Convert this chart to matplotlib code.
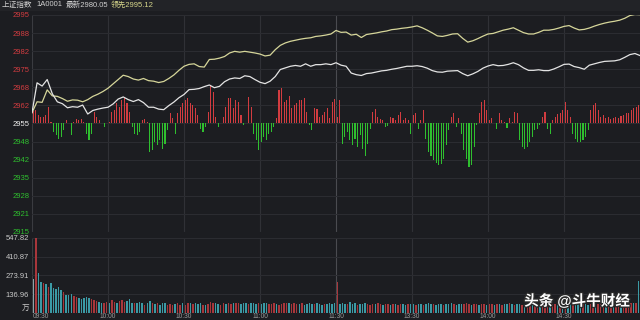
import numpy as np
import matplotlib
matplotlib.use("Agg")
import matplotlib.pyplot as plt
import matplotlib.patheffects as pe
from matplotlib.patches import Rectangle

plt.rcParams['font.family'] = ['Liberation Sans', 'Noto Sans CJK SC']

# === Data ===
prev_close = 2955
# index (white) and leading index (yellow), one value every 2 minutes
index_line = [
    2959.0, 2970.0, 2968.8, 2971.2, 2966.0, 2963.0, 2962.3, 2960.8, 2961.2, 2961.0,
    2961.8, 2958.5, 2959.8, 2960.3, 2960.7, 2961.0, 2962.2, 2964.0, 2964.8, 2963.8,
    2963.1, 2963.8, 2962.7, 2961.0, 2961.0, 2960.3, 2960.1, 2961.6, 2962.9, 2964.5,
    2965.7, 2967.5, 2967.6, 2967.9, 2968.6, 2969.2, 2968.2, 2968.7, 2970.4, 2971.4,
    2971.8, 2971.6, 2972.6, 2972.3, 2971.2, 2970.2, 2969.7, 2970.6, 2972.3, 2974.9,
    2975.5, 2976.1, 2976.4, 2976.1, 2977.0, 2976.1, 2976.7, 2976.7, 2977.0, 2976.7,
    2977.4, 2976.5, 2976.1, 2973.6, 2973.0, 2972.7, 2973.4, 2973.6, 2974.0, 2974.4,
    2974.6, 2975.0, 2975.3, 2975.7, 2976.1, 2976.1, 2976.3, 2976.0, 2975.4, 2974.5,
    2974.0, 2973.9, 2974.3, 2974.4, 2974.5, 2973.4, 2972.6, 2973.3, 2974.2, 2975.4,
    2976.2, 2976.7, 2976.3, 2976.4, 2976.8, 2977.4, 2976.7, 2975.5, 2974.6, 2974.6,
    2974.8, 2974.5, 2974.5, 2975.1, 2975.9, 2976.8, 2976.9, 2976.0, 2975.6, 2975.0,
    2976.5, 2977.0, 2977.5, 2977.9, 2978.0, 2978.1, 2978.5, 2979.4, 2980.4, 2980.8,
    2980.05]
lead_line = [
    2959.0, 2963.0, 2962.8, 2967.4, 2965.2, 2965.0, 2964.2, 2963.2, 2963.7, 2963.6,
    2963.0, 2963.8, 2965.0, 2965.8, 2966.8, 2968.0, 2969.6, 2971.2, 2972.8, 2972.3,
    2971.4, 2971.0, 2971.6, 2970.8, 2970.6, 2970.1, 2970.5, 2971.6, 2972.9, 2974.6,
    2976.1, 2976.8, 2977.0, 2976.0, 2975.8, 2978.6, 2978.7, 2979.1, 2979.7, 2981.0,
    2981.6, 2981.3, 2981.6, 2981.3, 2981.0, 2980.6, 2979.9, 2980.2, 2982.2, 2983.8,
    2984.7, 2985.3, 2985.7, 2986.1, 2986.4, 2986.6, 2987.1, 2987.3, 2987.6, 2988.0,
    2989.3, 2988.6, 2988.7, 2987.6, 2987.9, 2986.7, 2987.8, 2988.1, 2988.4, 2988.8,
    2989.1, 2989.6, 2989.8, 2990.1, 2990.3, 2990.6, 2991.0, 2990.3, 2989.4, 2988.4,
    2987.3, 2987.1, 2987.5, 2988.0, 2988.1, 2986.4, 2985.0, 2985.5, 2986.3, 2987.2,
    2988.0, 2988.2, 2988.8, 2989.4, 2989.8, 2990.3, 2989.4, 2988.5, 2988.0, 2988.0,
    2988.6, 2989.4, 2989.4, 2989.7, 2990.2, 2990.8, 2991.1, 2990.2, 2989.5, 2989.7,
    2990.2, 2990.9, 2991.5, 2992.0, 2992.4, 2992.7, 2993.1, 2993.8, 2994.8, 2995.2,
    2995.12]

# buy/sell strength bars, one per minute (offset from previous close)
strength = [
    4.5, 4.9, 3.1, 2.5, 2.5, 3.1, 5.9, 0.5, -3.1, -4.3,
    -5.6, -4.9, -2.5, 1.2, 0.3, -4.3, 0.4, 1.5, 1.2, 1.8,
    0.4, -3.7, -6.2, -3.7, 4.3, 2.5, 1.2, 0.3, -1.2, 0.3,
    0.5, 4.3, 4.9, 7.4, 6.2, 8.6, 9.9, 7.4, 4.3, -1.2,
    -3.7, -4.3, -3.1, 1.2, 1.5, 0.6, -10.5, -9.9, -6.8, -8.0,
    -6.2, -9.3, -7.4, -2.5, 3.7, 1.9, -3.7, 3.7, 6.2, 7.4,
    8.6, 9.3, 7.4, 6.8, 5.6, 3.1, -1.9, -3.1, -1.2, 4.3,
    14.2, 11.7, 2.5, -1.2, 0.3, 2.5, 6.2, 9.3, 9.3, 5.6,
    8.6, 8.0, 3.1, -0.6, 0.3, 9.9, 5.9, -3.7, -6.2, -9.9,
    -6.8, -4.9, -6.2, -3.7, -3.1, -1.2, 1.9, 12.3, 13.0, 8.0,
    8.6, 10.1, 5.6, 6.8, 7.4, 8.6, 8.6, 9.3, 4.3, -0.6,
    -2.5, 5.6, 5.2, 2.5, 3.1, 4.3, 5.6, 1.9, 8.0, 8.9,
    2.5, 8.6, -7.4, -4.9, -3.1, -6.2, -8.0, -5.6, -8.6, -4.3,
    -9.3, -12.1, -7.4, -1.9, 4.3, 5.2, 2.5, 1.5, 1.2, -1.2,
    -1.0, 2.5, 1.9, 1.2, 3.1, 4.3, 1.2, 2.2, 1.2, -3.7,
    3.1, 3.7, -1.9, 1.2, 4.9, -5.6, -10.5, -12.0, -13.4, -14.4,
    -15.3, -15.0, -13.0, -8.0, -2.5, 2.5, 3.7, -1.2, 1.9, -3.7,
    -9.9, -13.0, -16.0, -15.4, -8.6, -0.6, 3.7, 8.0, 8.6, 4.9,
    1.2, 1.9, 0.3, -1.9, 3.7, 1.2, 0.6, -1.5, 1.9, 0.5,
    4.3, 3.7, -6.2, -8.6, -9.3, -8.6, -6.8, -4.9, -2.5, -1.9,
    -0.6, 2.5, 4.3, -1.9, -3.7, 1.2, 2.5, 3.5, 3.7, 4.9,
    8.0, 4.9, 2.5, -3.7, -5.6, -6.8, -6.8, -6.2, -4.9, -2.5,
    4.9, 6.8, 7.4, 4.9, 2.5, 3.1, 1.9, 2.5, 1.5, 1.9,
    2.5, 2.2, 2.7, 3.1, 3.7, 3.7, 4.9, 5.6, 6.2, 6.8]

# volume per minute (万)
volume = [
    250, 548, 288, 224, 217, 208, 189, 217, 184, 177,
    189, 165, 153, 130, 130, 137, 123, 118, 106, 99,
    106, 113, 106, 99, 94, 90, 83, 76, 76, 83,
    76, 94, 83, 76, 90, 94, 83, 90, 99, 76,
    71, 76, 83, 71, 59, 76, 90, 71, 66, 76,
    59, 76, 71, 59, 66, 59, 66, 71, 59, 71,
    59, 71, 71, 66, 71, 66, 71, 59, 59, 66,
    83, 76, 76, 66, 59, 71, 66, 71, 66, 71,
    76, 71, 66, 71, 76, 66, 71, 76, 66, 71,
    66, 71, 76, 66, 62, 71, 66, 59, 66, 71,
    76, 71, 66, 71, 62, 66, 71, 59, 66, 71,
    66, 62, 71, 66, 59, 66, 62, 71, 66, 76,
    225, 66, 71, 62, 66, 78, 66, 71, 59, 66,
    62, 71, 66, 59, 66, 62, 71, 66, 59, 62,
    66, 59, 62, 66, 59, 62, 66, 59, 62, 66,
    62, 59, 66, 62, 59, 66, 71, 62, 66, 59,
    62, 66, 59, 62, 66, 71, 62, 59, 66, 62,
    66, 71, 62, 59, 66, 62, 59, 66, 62, 59,
    62, 66, 59, 62, 66, 59, 62, 66, 71, 62,
    59, 62, 66, 59, 62, 66, 59, 62, 59, 66,
    62, 59, 66, 62, 59, 62, 66, 59, 62, 66,
    71, 66, 62, 59, 66, 62, 59, 66, 62, 59,
    62, 66, 71, 66, 62, 66, 59, 62, 66, 62,
    66, 71, 66, 62, 71, 76, 71, 76, 71, 236]
# r = up minute, t = down minute, w = opening
vol_dir = ("wrttrtrttt" "ttrtttrrtt" "tttrrrttrr" "trrtrrrttt"
           "rtttrttrtr" "tttrrrtrrt" "rrtrtttrtr" "rrttrrtrrt"
           "rrtttrtttr" "tttrrrtrrr" "rtrrrtrttt" "trtttrtttt"
           "rtttrtttrt" "ttrrrtrrtr" "rtrtrrttrt" "trttrtttrt"
           "ttrtttrttt" "rrrtrrtrrt" "rrtrtrttrt" "rttrtrrtrr"
           "trrrtrrtrt" "rttrtttrtt" "rrtrrrtrrt" "rrtrrrrtrt")

price_ticks = [2915, 2921.67, 2928.33, 2935, 2941.67, 2948.33, 2955,
               2961.67, 2968.33, 2975, 2981.67, 2988.33, 2995]
price_labels = ['2915', '2921', '2928', '2935', '2942', '2948', '2955',
                '2962', '2968', '2975', '2982', '2988', '2995']
vol_ticks = [0, 136.96, 273.91, 410.87, 547.82]
vol_labels = ['万', '136.96', '273.91', '410.87', '547.82']
time_ticks = [0, 30, 60, 90, 120, 150, 180, 210]
time_labels = ['09:30', '10:00', '10:30', '11:00', '11:30', '13:30', '14:00', '14:30']

# === Style ===
BG = '#1c1d21'
GRID = '#2b2c31'
RED = '#d23c40'
GREEN = '#2fbf2f'
VRED = '#a8363b'
VTEAL = '#3b9aa5'

fig = plt.figure(figsize=(6.4, 3.2), dpi=100, facecolor=BG)
fig.patches.append(Rectangle((0, 1 - 11 / 320), 1, 11 / 320, transform=fig.transFigure,
                             facecolor='#222327', edgecolor='none', zorder=0))

ax = fig.add_axes([32 / 640, 88 / 320, 608 / 640, 217 / 320], facecolor=BG)
axv = fig.add_axes([32 / 640, 7 / 320, 608 / 640, 75.3 / 320], facecolor=BG)

t_line = np.arange(0, 241, 2)
t_bar = np.arange(len(strength)) + 0.5

# === Grid / axes ===
for a in (ax, axv):
    for t in time_ticks:
        c = '#4a4b50' if t == 120 else ('#3a3b40' if t == 0 else '#303136')
        a.axvline(t, color=c, lw=0.8, zorder=1)
    for s in a.spines.values():
        s.set_visible(False)
    a.set_xlim(0, 240)
    a.set_xticks([])
    a.tick_params(axis='y', length=0, pad=2, labelsize=5.5)

# === Main panel ===
for y in price_ticks:
    ax.axhline(y, color=GRID, lw=0.8, zorder=1)

s = np.array(strength)
ax.bar(t_bar, s, bottom=prev_close, width=0.42,
       color=[RED if v > 0 else GREEN for v in s], zorder=2)
ax.plot(t_line, lead_line, color='#d6d69a', lw=0.9, zorder=3)
ax.plot(t_line, index_line, color='#e4e4e4', lw=0.9, zorder=3)

ax.set_ylim(2915, 2995)
ax.set_yticks(price_ticks)
ax.set_yticklabels(price_labels)
for lab, v in zip(ax.get_yticklabels(), price_ticks):
    if v > prev_close + 0.1:
        lab.set_color(RED)
    elif v < prev_close - 0.1:
        lab.set_color(GREEN)
    else:
        lab.set_color('#f0f0f0')

# === Volume panel ===
for y in vol_ticks:
    axv.axhline(y, color=GRID, lw=0.8, zorder=1)
vcol = {'r': VRED, 't': VTEAL, 'w': '#8fa3a8'}
axv.bar(t_bar, volume, width=0.6, color=[vcol[c] for c in vol_dir], zorder=2)
axv.set_ylim(0, 547.82)
axv.set_yticks(vol_ticks)
axv.set_yticklabels(vol_labels, color='#c8c8c8')
axv.get_yticklabels()[0].set_va('bottom')

for i, (t, lab) in enumerate(zip(time_ticks, time_labels)):
    fig.text((32 + t * 608 / 240) / 640 + (1 / 640 if i == 0 else 0), 0.5 / 320, lab,
             color='#9a9a9a', fontsize=4.8, ha='left' if i == 0 else 'center', va='bottom')

# === Header ===
hy = 1 - 5 / 320
fig.text(2 / 640, hy, '上证指数', color='#d0d0d0', fontsize=5.5, va='center')
fig.text(36 / 640, hy, '1A0001', color='#d0d0d0', fontsize=5.5, va='center')
fig.text(66 / 640, hy, '最新2980.05', color='#d0d0d0', fontsize=5.5, va='center')
fig.text(111 / 640, hy, '领先2995.12', color='#d6d68a', fontsize=5.5, va='center')

# watermark
fig.text(0.985, 19 / 320, '头条 @斗牛财经', color='white', fontsize=10.5,
         fontweight='bold', ha='right', va='center',
         path_effects=[pe.withStroke(linewidth=2, foreground='#2a2a2a')])

fig.savefig('out.png', dpi=100, facecolor=BG)
